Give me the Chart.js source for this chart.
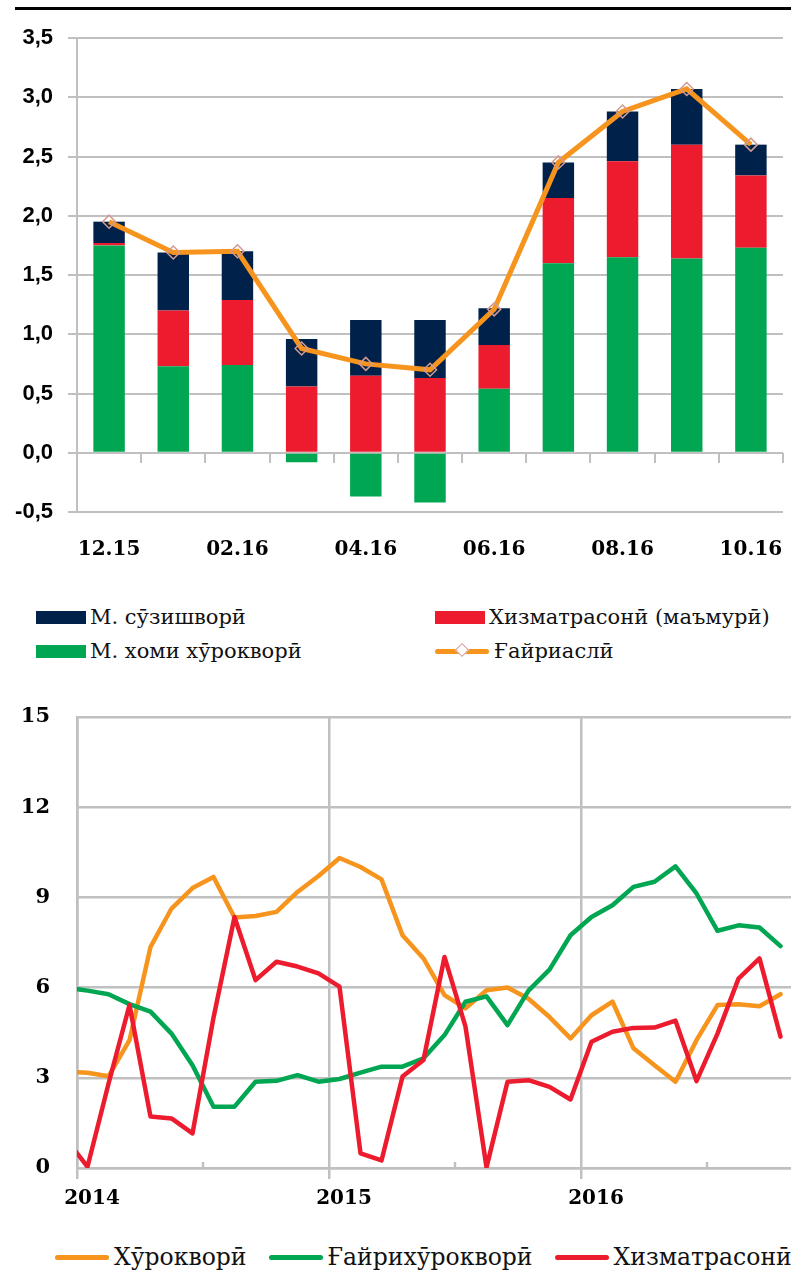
<!DOCTYPE html>
<html>
<head>
<meta charset="utf-8">
<title>Таваррум</title>
<script src="https://cdn.jsdelivr.net/npm/chart.js@4.4.1/dist/chart.umd.min.js"></script>
<style>
  body { margin: 0; background: #fff; }
  #page { position: relative; width: 791px; height: 1271px; overflow: hidden; }
  #rule { position: absolute; left: 15px; top: 7px; width: 776px; height: 3px; background: #000; }
  #barBox { position: absolute; left: 0; top: 0; width: 791px; height: 580px; }
  #lineBox { position: absolute; left: 0; top: 690px; width: 791px; height: 540px; }
  .legend { position: absolute; font-family: "DejaVu Serif", "Liberation Serif", serif; color: #111; }
  #barLegend { left: 36px; top: 600px; display: grid; grid-template-columns: 399px auto; grid-auto-rows: 34px; font-size: 21px; }
  #lineLegend { left: 55px; top: 1240px; height: 34px; display: flex; font-size: 23.5px; }
  .item { display: flex; align-items: center; white-space: nowrap; }
  #lineLegend .item { margin-right: 22px; }
  .swatch { width: 50px; height: 13px; margin-right: 4px; }
  .stroke { position: relative; width: 54px; height: 5px; border-radius: 3px; margin-right: 5px; }
  .diamond { position: absolute; left: 22px; top: -4px; width: 8px; height: 8px; transform: rotate(45deg);
             border: 1.5px solid #d39a94; background: #fff; }
</style>
</head>
<body>
<div id="page">
  <div id="rule"></div>
  <div id="barBox"><canvas id="barChart" width="791" height="580"></canvas></div>
  <div id="barLegend" class="legend"></div>
  <div id="lineBox"><canvas id="lineChart" width="791" height="540"></canvas></div>
  <div id="lineLegend" class="legend"></div>
</div>
<script>
// --- верхний график: саҳм дар таваррум ---
const barMonths = ["12.15", "01.16", "02.16", "03.16", "04.16", "05.16", "06.16", "07.16", "08.16", "09.16", "10.16"];
const fuelContrib = [0.18, 0.49, 0.41, 0.40, 0.47, 0.49, 0.31, 0.30, 0.42, 0.47, 0.26];
const servicesContrib = [0.02, 0.47, 0.55, 0.56, 0.65, 0.63, 0.37, 0.55, 0.81, 0.96, 0.61];
const foodContrib = [1.75, 0.73, 0.74, -0.08, -0.37, -0.42, 0.54, 1.60, 1.65, 1.64, 1.73];
const coreInfl = [1.95, 1.69, 1.70, 0.88, 0.75, 0.70, 1.21, 2.45, 2.88, 3.07, 2.60];
const barLabels = ["М. сӯзишворӣ", "Хизматрасонӣ (маъмурӣ)", "М. хоми хӯрокворӣ", "Ғайриаслӣ"];

// --- поёнӣ график: таваррум аз рӯи гурӯҳҳо ---
const monthLabels = [
  "12.13",
  "01.14", "02.14", "03.14", "04.14", "05.14", "06.14", "07.14", "08.14", "09.14", "10.14", "11.14", "12.14",
  "01.15", "02.15", "03.15", "04.15", "05.15", "06.15", "07.15", "08.15", "09.15", "10.15", "11.15", "12.15",
  "01.16", "02.16", "03.16", "04.16", "05.16", "06.16", "07.16", "08.16", "09.16", "10.16"
];
const foodInfl = [3.2,
  3.17, 3.05, 4.25, 7.35, 8.63, 9.31, 9.68, 8.33, 8.38, 8.52, 9.18, 9.71,
  10.31, 10.01, 9.6, 7.74, 6.97, 5.75, 5.31, 5.91, 6.0, 5.63, 5.02, 4.31,
  5.08, 5.53, 3.98, 3.42, 2.87, 4.25, 5.42, 5.45, 5.38, 5.78];
const nonFoodInfl = [6.0,
  5.9, 5.78, 5.45, 5.2, 4.47, 3.42, 2.04, 2.04, 2.87, 2.9, 3.09, 2.87,
  2.96, 3.17, 3.37, 3.37, 3.65, 4.42, 5.53, 5.71, 4.75, 5.9, 6.6, 7.74,
  8.35, 8.74, 9.35, 9.52, 10.03, 9.13, 7.89, 8.07, 8.0, 7.38];
const servicesInfl = [0.95,
  0.04, 2.8, 5.42, 1.71, 1.65, 1.15, 5.0, 8.35, 6.25, 6.86, 6.7, 6.47,
  6.03, 0.49, 0.25, 3.04, 3.59, 7.02, 4.7, 0.02, 2.87, 2.92, 2.7, 2.28,
  4.2, 4.53, 4.66, 4.67, 4.9, 2.89, 4.47, 6.3, 6.97, 4.37];
const yearTicks = ["2014", "2015", "2016"];
const lineLabels = ["Хӯрокворӣ", "Ғайрихӯрокворӣ", "Хизматрасонӣ"];

const navy = "#00224a";
const red = "#ec1c2e";
const green = "#00a651";
const orange = "#f7941d";
const gridGray = "#c0c0c0";
const clear = "rgba(0,0,0,0)";

function commaFmt(v) {
  return v.toFixed(1).replace(".", ",");
}

new Chart(document.getElementById("barChart"), {
  type: "bar",
  data: {
    labels: barMonths,
    datasets: [
      {
        type: "line",
        label: barLabels[3],
        data: coreInfl,
        stack: "core",
        borderColor: orange,
        borderWidth: 5,
        tension: 0,
        pointStyle: "rectRot",
        pointRadius: 6.5,
        pointBorderWidth: 1.5,
        pointBorderColor: "#d39a94",
        pointBackgroundColor: clear,
      },
      { label: barLabels[2], data: foodContrib, backgroundColor: green },
      { label: barLabels[1], data: servicesContrib, backgroundColor: red },
      { label: barLabels[0], data: fuelContrib, backgroundColor: navy },
    ],
  },
  options: {
    responsive: false,
    animation: false,
    layout: { padding: { top: 38, left: 0, right: 0, bottom: 0 } },
    datasets: { bar: { barPercentage: 0.49, categoryPercentage: 1 } },
    plugins: { legend: { display: false }, tooltip: { enabled: false } },
    scales: {
      x: {
        stacked: true,
        // невидимые засечки только сдвигают подписи вниз
        grid: { display: false, drawTicks: true, tickLength: 23 },
        border: { display: false },
        ticks: {
          autoSkip: false,
          maxRotation: 0,
          padding: 3,
          color: "#000",
          font: { family: "DejaVu Serif", weight: "bold", size: 20 },
          callback: (v, i) => (i % 2 === 0 ? barMonths[i] : ""),
        },
        afterFit: (s) => { s.height = 68; },
      },
      // засечки на линии нуля
      x0: {
        axis: "x",
        type: "category",
        position: { y: 0 },
        offset: true,
        grid: { offset: true, drawOnChartArea: false, tickLength: 10, color: gridGray, lineWidth: 2 },
        border: { display: false },
        ticks: { display: false },
      },
      y: {
        stacked: true,
        min: -0.5,
        max: 3.5,
        ticks: {
          stepSize: 0.5,
          padding: 15,
          color: "#000",
          font: { family: "Liberation Sans", weight: "bold", size: 22 },
          callback: (v) => commaFmt(v),
        },
        grid: { color: gridGray, lineWidth: 2, tickLength: 9 },
        border: { color: gridGray, width: 2 },
        afterFit: (s) => { s.width = 77; },
      },
    },
  },
});

// короткие засечки внутри графика (полугодия)
const minorTicks = {
  id: "minorTicks",
  beforeDatasetsDraw(chart) {
    const sx = chart.scales.x;
    const ctx = chart.ctx;
    const bottom = chart.chartArea.bottom;
    ctx.save();
    ctx.strokeStyle = gridGray;
    ctx.lineWidth = 2.5;
    sx.ticks.forEach((t) => {
      if (t.value % 12 === 0) return;
      const px = sx.getPixelForValue(t.value);
      ctx.beginPath();
      ctx.moveTo(px, bottom - 6);
      ctx.lineTo(px, bottom);
      ctx.stroke();
    });
    ctx.restore();
  },
};

function toPoints(series) {
  return monthLabels.map((m, i) => ({ x: i - 0.5, y: series[i] }));
}

const majorColor = (c) => (c.tick && c.tick.value % 12 === 0 ? gridGray : clear);

new Chart(document.getElementById("lineChart"), {
  type: "line",
  data: {
    datasets: [
      { label: lineLabels[0], data: toPoints(foodInfl), borderColor: orange, order: 3 },
      { label: lineLabels[1], data: toPoints(nonFoodInfl), borderColor: green, order: 2 },
      { label: lineLabels[2], data: toPoints(servicesInfl), borderColor: red, order: 1 },
    ],
  },
  options: {
    responsive: false,
    animation: false,
    layout: { padding: { top: 27, left: 0, right: 0, bottom: 0 } },
    elements: {
      point: { radius: 0 },
      line: { borderWidth: 4.5, tension: 0, borderJoinStyle: "round", borderCapStyle: "round" },
    },
    plugins: { legend: { display: false }, tooltip: { enabled: false } },
    scales: {
      x: {
        type: "linear",
        min: 0,
        max: 34,
        ticks: {
          stepSize: 6,
          includeBounds: false,
          autoSkip: false,
          maxRotation: 0,
          labelOffset: 15,
          padding: 8,
          color: "#000",
          font: { family: "DejaVu Serif", weight: "bold", size: 20 },
          callback: (v) => (v % 12 === 0 ? yearTicks[v / 12] : ""),
        },
        grid: { color: majorColor, tickColor: majorColor, lineWidth: 2.5, tickLength: 11 },
        border: { color: gridGray, width: 2.5 },
        afterFit: (s) => { s.height = 62; },
      },
      y: {
        min: 0,
        max: 15,
        ticks: {
          stepSize: 3,
          padding: 3,
          color: "#000",
          font: { family: "DejaVu Serif", weight: "bold", size: 21 },
        },
        grid: { color: gridGray, lineWidth: 2.5, drawTicks: true, tickLength: 24, tickColor: clear },
        border: { color: gridGray, width: 2.5 },
        afterFit: (s) => { s.width = 77; },
      },
    },
  },
  plugins: [minorTicks],
});

// легенды
const barSwatches = [
  { label: barLabels[0], color: navy },
  { label: barLabels[1], color: red },
  { label: barLabels[2], color: green },
  { label: barLabels[3], color: orange, line: true },
];
const barLegend = document.getElementById("barLegend");
barSwatches.forEach((s) => {
  const item = document.createElement("div");
  item.className = "item";
  const mark = document.createElement("div");
  if (s.line) {
    mark.className = "stroke";
    mark.style.background = s.color;
    const d = document.createElement("div");
    d.className = "diamond";
    mark.appendChild(d);
  } else {
    mark.className = "swatch";
    mark.style.background = s.color;
  }
  const txt = document.createElement("span");
  txt.textContent = s.label;
  item.appendChild(mark);
  item.appendChild(txt);
  barLegend.appendChild(item);
});

const lineLegend = document.getElementById("lineLegend");
[orange, green, red].forEach((c, i) => {
  const item = document.createElement("div");
  item.className = "item";
  const mark = document.createElement("div");
  mark.className = "stroke";
  mark.style.background = c;
  const txt = document.createElement("span");
  txt.textContent = lineLabels[i];
  item.appendChild(mark);
  item.appendChild(txt);
  lineLegend.appendChild(item);
});
</script>
</body>
</html>
